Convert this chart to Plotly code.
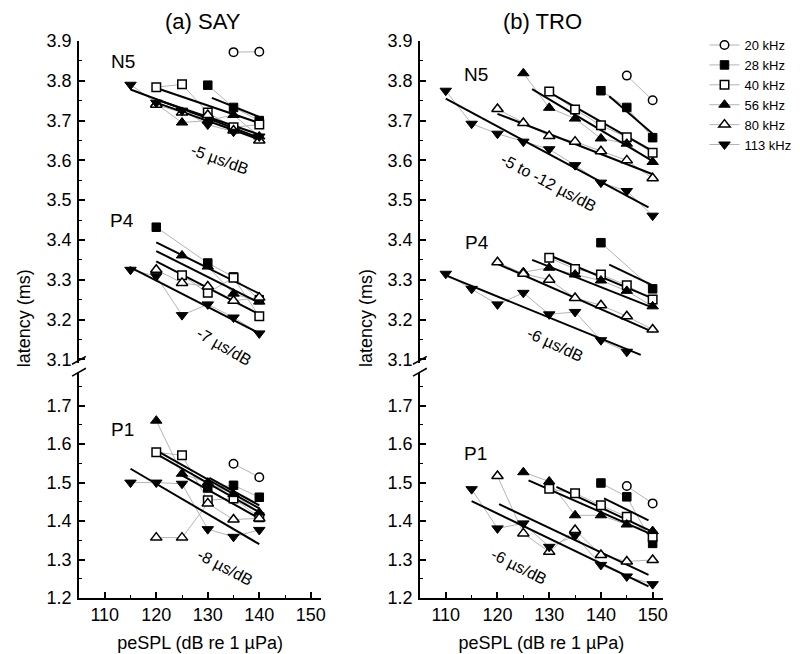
import plotly.graph_objects as go

FREQS = ["20 kHz", "28 kHz", "40 kHz", "56 kHz", "80 kHz", "113 kHz"]
SYMBOLS = ["circle-open", "square", "square-open", "triangle-up", "triangle-up-open", "triangle-down"]

# ---------------- SAY (panel a) ----------------
say_N5 = {
    "20 kHz": ([135, 140], [3.872, 3.873]),
    "28 kHz": ([130, 135, 140], [3.789, 3.733, 3.700]),
    "40 kHz": ([120, 125, 130, 135, 140], [3.784, 3.791, 3.720, 3.683, 3.690]),
    "56 kHz": ([120, 125, 130, 135, 140], [3.742, 3.695, 3.700, 3.714, 3.660]),
    "80 kHz": ([120, 125, 130, 135, 140], [3.740, 3.720, 3.714, 3.675, 3.650]),
    "113 kHz": ([115, 120, 125, 130, 135, 140], [3.790, 3.745, 3.725, 3.690, 3.672, 3.660]),
}
say_N5_fit = {
    "28 kHz": ([130.8, 140], [3.757, 3.709]),
    "40 kHz": ([120, 140], [3.782, 3.694]),
    "56 kHz": ([120, 140], [3.753, 3.665]),
    "80 kHz": ([120, 140], [3.745, 3.653]),
    "113 kHz": ([115, 140], [3.778, 3.657]),
}
say_P4 = {
    "28 kHz": ([120, 130, 135, 140], [3.432, 3.342, 3.307, 3.250]),
    "40 kHz": ([125, 130, 135, 140], [3.311, 3.267, 3.305, 3.208]),
    "56 kHz": ([125, 130, 135, 140], [3.361, 3.333, 3.265, 3.245]),
    "80 kHz": ([120, 125, 130, 135, 140], [3.325, 3.292, 3.283, 3.247, 3.255]),
    "113 kHz": ([115, 120, 125, 130, 135, 140], [3.325, 3.309, 3.211, 3.238, 3.205, 3.165]),
}
say_P4_fit = {
    "28 kHz": ([120, 140], [3.394, 3.265]),
    "56 kHz": ([120, 140], [3.372, 3.242]),
    "40 kHz": ([120, 140], [3.346, 3.213]),
    "113 kHz": ([114.8, 140], [3.332, 3.165]),
}
say_P1 = {
    "20 kHz": ([135, 140], [1.549, 1.514]),
    "28 kHz": ([130, 135, 140], [1.486, 1.493, 1.462]),
    "40 kHz": ([120, 125, 130, 135, 140], [1.579, 1.571, 1.454, 1.459, 1.410]),
    "56 kHz": ([120, 125, 130, 135, 140], [1.661, 1.523, 1.500, 1.470, 1.422]),
    "80 kHz": ([120, 125, 130, 135, 140], [1.357, 1.357, 1.446, 1.404, 1.407]),
    "113 kHz": ([115, 120, 125, 130, 135, 140], [1.500, 1.500, 1.497, 1.379, 1.359, 1.377]),
}
say_P1_fit = {
    "28 kHz": ([130.3, 140], [1.512, 1.441]),
    "40 kHz": ([120, 140], [1.584, 1.433]),
    "56 kHz": ([120, 140], [1.575, 1.423]),
    "80 kHz": ([125, 140], [1.519, 1.407]),
    "113 kHz": ([115, 140], [1.536, 1.340]),
}

# ---------------- TRO (panel b) ----------------
tro_N5 = {
    "20 kHz": ([145, 150], [3.813, 3.751]),
    "28 kHz": ([140, 145, 150], [3.775, 3.733, 3.657]),
    "40 kHz": ([130, 135, 140, 145, 150], [3.773, 3.728, 3.688, 3.658, 3.619]),
    "56 kHz": ([125, 130, 135, 140, 145, 150], [3.819, 3.732, 3.705, 3.655, 3.642, 3.596]),
    "80 kHz": ([120, 125, 130, 135, 140, 145, 150], [3.729, 3.694, 3.661, 3.647, 3.623, 3.600, 3.555]),
    "113 kHz": ([110, 115, 120, 125, 130, 135, 140, 145, 150],
                [3.775, 3.692, 3.667, 3.647, 3.628, 3.588, 3.544, 3.523, 3.461]),
}
tro_N5_fit = {
    "28 kHz": ([141.6, 150], [3.761, 3.667]),
    "40 kHz": ([130.8, 150], [3.765, 3.623]),
    "56 kHz": ([126.7, 150], [3.779, 3.598]),
    "80 kHz": ([120, 150], [3.717, 3.565]),
    "113 kHz": ([110, 149.2], [3.755, 3.482]),
}
tro_P4 = {
    "28 kHz": ([140, 150], [3.393, 3.277]),
    "40 kHz": ([130, 135, 140, 145, 150], [3.355, 3.327, 3.313, 3.286, 3.250]),
    "56 kHz": ([125, 130, 135, 140, 145, 150], [3.319, 3.330, 3.313, 3.298, 3.272, 3.233]),
    "80 kHz": ([120, 125, 130, 135, 140, 145, 150], [3.344, 3.315, 3.300, 3.254, 3.236, 3.208, 3.175]),
    "113 kHz": ([110, 115, 120, 125, 130, 135, 140, 145],
                [3.315, 3.277, 3.238, 3.267, 3.213, 3.219, 3.148, 3.119]),
}
tro_P4_fit = {
    "28 kHz": ([141.6, 150], [3.338, 3.286]),
    "40 kHz": ([130.8, 150], [3.357, 3.253]),
    "56 kHz": ([126.7, 150], [3.350, 3.230]),
    "80 kHz": ([120, 150], [3.340, 3.169]),
    "113 kHz": ([110, 147.7], [3.311, 3.111]),
}
tro_P1 = {
    "20 kHz": ([145, 150], [1.491, 1.446]),
    "28 kHz": ([140, 145, 150], [1.499, 1.463, 1.342]),
    "40 kHz": ([130, 135, 140, 145, 150], [1.484, 1.472, 1.441, 1.411, 1.359]),
    "56 kHz": ([125, 130, 135, 140, 145, 150], [1.527, 1.503, 1.415, 1.415, 1.391, 1.374]),
    "80 kHz": ([120, 125, 130, 135, 140, 145, 150], [1.517, 1.368, 1.320, 1.377, 1.312, 1.295, 1.299]),
    "113 kHz": ([115, 120, 125, 130, 135, 140, 145, 150],
                [1.483, 1.381, 1.394, 1.333, 1.362, 1.286, 1.256, 1.236]),
}
tro_P1_fit = {
    "28 kHz": ([140.6, 149.2], [1.459, 1.402]),
    "40 kHz": ([131.4, 150], [1.489, 1.372]),
    "56 kHz": ([126, 150], [1.506, 1.364]),
    "80 kHz": ([120.3, 149.2], [1.444, 1.260]),
    "113 kHz": ([115, 149.2], [1.452, 1.230]),
}

FONT = "Liberation Sans, Arial, sans-serif"
GRAY = "#b4b4b4"

fig = go.Figure()

# (data dict, fit dict, xaxis, yaxis)
groups = [
    (say_N5, say_N5_fit, "x3", "y3"),
    (say_P4, say_P4_fit, "x3", "y3"),
    (say_P1, say_P1_fit, "x", "y"),
    (tro_N5, tro_N5_fit, "x4", "y4"),
    (tro_P4, tro_P4_fit, "x4", "y4"),
    (tro_P1, tro_P1_fit, "x2", "y2"),
]


def marker_style(i):
    sym = SYMBOLS[i]
    size = 10 if "triangle" in sym else 8.5
    if sym.endswith("-open"):
        return dict(symbol=sym.replace("-open", ""), size=size, color="white",
                    line=dict(color="black", width=1.5))
    return dict(symbol=sym, size=size, color="black", line=dict(color="black", width=1))


# 1) gray connecting lines
for data, fit, xa, ya in groups:
    for f in FREQS:
        if f in data:
            xs, ys = data[f]
            fig.add_trace(go.Scatter(x=xs, y=ys, mode="lines", xaxis=xa, yaxis=ya,
                                     line=dict(color=GRAY, width=1), showlegend=False,
                                     hoverinfo="skip"))
# 2) regression lines
for data, fit, xa, ya in groups:
    for f in FREQS:
        if f in fit:
            xs, ys = fit[f]
            fig.add_trace(go.Scatter(x=xs, y=ys, mode="lines", xaxis=xa, yaxis=ya,
                                     line=dict(color="black", width=2), showlegend=False,
                                     hoverinfo="skip"))
# 3) markers
for data, fit, xa, ya in groups:
    for i, f in enumerate(FREQS):
        if f in data:
            xs, ys = data[f]
            fig.add_trace(go.Scatter(x=xs, y=ys, mode="markers", xaxis=xa, yaxis=ya,
                                     marker=marker_style(i), showlegend=False, name=f))
# legend entries
for i, f in enumerate(FREQS):
    fig.add_trace(go.Scatter(x=[None], y=[None], mode="lines+markers", name=f,
                             xaxis="x", yaxis="y",
                             line=dict(color=GRAY, width=1), marker=marker_style(i)))

# ---------- layout geometry ----------
L, R, T, B = 71, 138, 33, 61
W, H = 800, 654
PW, PH = W - L - R, H - T - B


def px(xp):
    return (xp - L) / PW


def py(yp):
    return (H - B - yp) / PH


X_RANGE = [105, 152]
left_dom = [0, px(316)]
right_dom = [px(416), 1]
upper_dom = [py(357), 1]
lower_dom = [0, py(367)]

tickfont = dict(family=FONT, size=18, color="black")
common_x = dict(range=X_RANGE, showline=True, linecolor="black", linewidth=1.5,
                ticks="inside", ticklen=6, tickwidth=1.5, tickcolor="black",
                tickvals=[110, 120, 130, 140, 150], tickfont=tickfont,
                minor=dict(tickvals=[105, 115, 125, 135, 145], ticks="inside", ticklen=3,
                           tickwidth=1.2, tickcolor="black"),
                showgrid=False, zeroline=False,
                title=dict(text="peSPL (dB re 1 µPa)", font=dict(family=FONT, size=18, color="black"),
                           standoff=12))
common_y = dict(showline=True, linecolor="black", linewidth=1.5, ticks="inside", ticklen=6,
                tickwidth=1.5, tickcolor="black", tickfont=tickfont, showgrid=False,
                zeroline=False, dtick=0.1, tickformat=".1f", ticklabelstandoff=2,
                minor=dict(dtick=0.05, ticks="inside", ticklen=3, tickwidth=1.2, tickcolor="black"))

fig.update_layout(
    width=W, height=H, margin=dict(l=L, r=R, t=T, b=B),
    paper_bgcolor="white", plot_bgcolor="white",
    xaxis=dict(domain=left_dom, anchor="y", **common_x),
    xaxis2=dict(domain=right_dom, anchor="y2", **common_x),
    xaxis3=dict(domain=left_dom, anchor="y3", matches="x", visible=False, range=X_RANGE),
    xaxis4=dict(domain=right_dom, anchor="y4", matches="x2", visible=False, range=X_RANGE),
    yaxis=dict(domain=lower_dom, anchor="x", range=[1.2, 1.7844], tick0=1.2, **common_y),
    yaxis2=dict(domain=lower_dom, anchor="x2", range=[1.2, 1.7844], tick0=1.2, **common_y),
    yaxis3=dict(domain=upper_dom, anchor="x3", range=[3.09, 3.9], tick0=3.1, **common_y),
    yaxis4=dict(domain=upper_dom, anchor="x4", range=[3.09, 3.9], tick0=3.1, **common_y),
    legend=dict(x=px(704), y=py(22), xanchor="left", yanchor="top",
                font=dict(family=FONT, size=13, color="black"),
                bgcolor="rgba(0,0,0,0)", tracegroupgap=0, itemwidth=30),
    font=dict(family=FONT, color="black"),
)

ann = []
for txt, xa, ya, x, y in [
    ("N5", "x3", "y3", 113.6, 3.849), ("P4", "x3", "y3", 113.4, 3.45), ("P1", "x", "y", 113.5, 1.638),
    ("N5", "x4", "y4", 115.9, 3.815), ("P4", "x4", "y4", 116.0, 3.394), ("P1", "x2", "y2", 115.8, 1.576),
]:
    ann.append(dict(text=txt, x=x, y=y, xref=xa, yref=ya, showarrow=False,
                    xanchor="center", yanchor="middle",
                    font=dict(family=FONT, size=19, color="black")))
for txt, xa, ya, x, y, ang in [
    ("-5 µs/dB", "x3", "y3", 132.4, 3.603, 20),
    ("-7 µs/dB", "x3", "y3", 133.1, 3.132, 30),
    ("-8 µs/dB", "x", "y", 133.4, 1.279, 28),
    ("-5 to -12 µs/dB", "x4", "y4", 129.8, 3.544, 28),
    ("-6 µs/dB", "x4", "y4", 131.1, 3.136, 25),
    ("-6 µs/dB", "x2", "y2", 124.1, 1.282, 27),
]:
    ann.append(dict(text=txt, x=x, y=y, xref=xa, yref=ya, showarrow=False, textangle=ang,
                    xanchor="center", yanchor="middle",
                    font=dict(family=FONT, size=16, color="black")))
# panel titles
ann.append(dict(text="(a) SAY", x=px(196), y=py(13), xref="paper", yref="paper", showarrow=False,
                xanchor="center", yanchor="middle",
                font=dict(family=FONT, size=22, color="black")))
ann.append(dict(text="(b) TRO", x=px(540), y=py(13), xref="paper", yref="paper", showarrow=False,
                xanchor="center", yanchor="middle",
                font=dict(family=FONT, size=22, color="black")))
# y titles
for xp in (15, 361):
    ann.append(dict(text="latency (ms)", x=px(xp), y=py(312), xref="paper", yref="paper",
                    showarrow=False, textangle=-90, xanchor="center", yanchor="middle",
                    font=dict(family=FONT, size=18, color="black")))
fig.update_layout(annotations=ann)

# axis break marks
shapes = []
for ax in (71, 416):
    for yb in (354, 366):
        shapes.append(dict(type="line", xref="paper", yref="paper",
                           x0=px(ax - 7), y0=py(yb + 4), x1=px(ax + 7), y1=py(yb - 4),
                           line=dict(color="black", width=1.5)))
fig.update_layout(shapes=shapes)

fig.write_html("out.html")
